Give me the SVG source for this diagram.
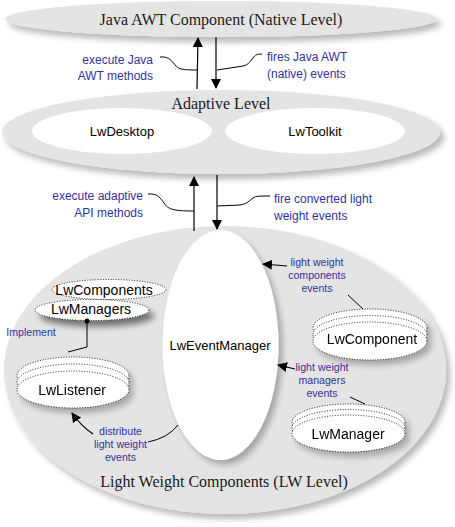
<svg xmlns="http://www.w3.org/2000/svg" width="455" height="527" viewBox="0 0 455 527">
<defs>
<filter id="sh" x="-10%" y="-20%" width="125%" height="150%">
<feGaussianBlur in="SourceAlpha" stdDeviation="3"/>
<feOffset dx="4" dy="5" result="o"/>
<feComponentTransfer><feFuncA type="linear" slope="0.28"/></feComponentTransfer>
<feMerge><feMergeNode/><feMergeNode in="SourceGraphic"/></feMerge>
</filter>
<filter id="shd" x="-20%" y="-30%" width="150%" height="200%">
<feGaussianBlur in="SourceAlpha" stdDeviation="3"/>
<feOffset dx="5" dy="6"/>
<feComponentTransfer><feFuncA type="linear" slope="0.5"/></feComponentTransfer>
<feMerge><feMergeNode/><feMergeNode in="SourceGraphic"/></feMerge>
</filter>
<marker id="ah" viewBox="0 0 10 10" refX="9" refY="5" markerWidth="10" markerHeight="10" markerUnits="userSpaceOnUse" orient="auto">
<path d="M0,0 L10,5 L0,10 z" fill="#000"/>
</marker>
<style>
.lvl{fill:#e4e4e4}
.wh{fill:#fff}
.dot{fill:#fff;stroke:#111;stroke-width:0.9;stroke-dasharray:1 1.6}
.ttl{font-family:"Liberation Serif","Times New Roman",serif;font-size:16px;fill:#1a1a1a;text-anchor:middle}
.nd{font-family:"Liberation Sans",Arial,sans-serif;fill:#000;text-anchor:middle}
.lb{font-family:"Liberation Sans",Arial,sans-serif;font-size:12px;fill:#333399}
.sl{font-family:"Liberation Sans",Arial,sans-serif;font-size:10.6px;fill:#333399;text-anchor:middle}
.ln{fill:none;stroke:#000;stroke-width:1}
.ar{fill:none;stroke:#000;stroke-width:1.2;marker-end:url(#ah)}
</style>
</defs>
<g id="native-level">
<ellipse class="lvl" cx="221" cy="19" rx="216" ry="18" filter="url(#sh)"/>
<text class="ttl" x="221" y="25">Java AWT Component (Native Level)</text>
</g>
<g id="adaptive-level">
<ellipse class="lvl" cx="221" cy="132" rx="219" ry="42" filter="url(#sh)"/>
<text class="ttl" x="221" y="109">Adaptive Level</text>
</g>
<g id="lwdesktop">
<ellipse class="wh" cx="122" cy="131" rx="90" ry="23"/>
<text class="nd" x="122" y="136" font-size="13">LwDesktop</text>
</g>
<g id="lwtoolkit">
<ellipse class="wh" cx="315" cy="131" rx="90" ry="23"/>
<text class="nd" x="315" y="136" font-size="13">LwToolkit</text>
</g>
<g id="lw-level">
<ellipse class="lvl" cx="225" cy="370" rx="221" ry="144" filter="url(#sh)"/>
<text class="ttl" x="224" y="487">Light Weight Components (LW Level)</text>
</g>
<g id="lweventmanager">
<ellipse class="wh" cx="220.5" cy="345" rx="58" ry="115" filter="url(#sh)"/>
<text class="nd" x="220" y="349.5" font-size="13">LwEventManager</text>
</g>
<g id="lwcomponents">
<ellipse class="dot" cx="109" cy="289.5" rx="57" ry="10"/>
<text class="nd" x="104" y="295" font-size="14">LwComponents</text>
</g>
<g id="lwmanagers">
<ellipse class="dot" cx="92" cy="310" rx="57" ry="10.5" filter="url(#shd)"/>
<text class="nd" x="91" y="314" font-size="14">LwManagers</text>
</g>
<g id="lwlistener" filter="url(#sh)">
<ellipse class="dot" cx="73" cy="375.5" rx="56" ry="18.5"/>
<ellipse class="dot" cx="73" cy="382.5" rx="56" ry="18.5"/>
<ellipse class="dot" cx="73" cy="389.5" rx="56" ry="18.5"/>
<text class="nd" x="72" y="395" font-size="14">LwListener</text>
</g>
<g id="lwcomponent" filter="url(#sh)">
<ellipse class="dot" cx="370" cy="328" rx="57" ry="19"/>
<ellipse class="dot" cx="370" cy="334.5" rx="57" ry="19"/>
<ellipse class="dot" cx="370" cy="341" rx="57" ry="19"/>
<text class="nd" x="372" y="344" font-size="14">LwComponent</text>
</g>
<g id="lwmanager" filter="url(#sh)">
<ellipse class="dot" cx="348.5" cy="422.5" rx="56.5" ry="18.5"/>
<ellipse class="dot" cx="348.5" cy="428" rx="56.5" ry="18.5"/>
<ellipse class="dot" cx="348.5" cy="433.5" rx="56.5" ry="18.5"/>
<text class="nd" x="348" y="439" font-size="14">LwManager</text>
</g>
<g id="connectors">
<path class="ar" d="M197,89 L198,38"/>
<path class="ar" d="M216,37 L216,88"/>
<path class="ar" d="M194,231 L194,177"/>
<path class="ar" d="M217,175 L217,229"/>
<path class="ln" d="M160,57 C170,56 172,62 176,66 C179,69 182,70 197,70"/>
<path class="ln" d="M217,70 L243,66 C249,65 251,60 253,58 C255,55 257,54 262,54"/>
<path class="ln" d="M148,194 C158,193 161,199 164,203 C168,209 172,211 194,211"/>
<path class="ln" d="M217,206 L240,205 C247,204 250,200 253,198 C256,196 259,196 270,196"/>
<path class="ar" d="M287,266 L263,264"/>
<path class="ln" d="M348,295 L363,309"/>
<path class="ar" d="M295,369 L278,365"/>
<path class="ln" d="M350,397 L365,404"/>
<path class="ln" d="M178,425 Q168,438 148,442"/>
<path class="ar" d="M93,434 Q81,426 72,413"/>
<path class="ln" d="M87,321 L87,347 L68,352"/>
<circle cx="87" cy="321" r="2.5" fill="#000"/>
</g>
<g id="labels">
<text class="lb" x="153" y="64" text-anchor="end">execute Java</text>
<text class="lb" x="153" y="80" text-anchor="end">AWT methods</text>
<text class="lb" x="267" y="61">fires Java AWT</text>
<text class="lb" x="267" y="78">(native) events</text>
<text class="lb" x="143" y="200" text-anchor="end">execute adaptive</text>
<text class="lb" x="143" y="217" text-anchor="end">API methods</text>
<text class="lb" x="274" y="203">fire converted light</text>
<text class="lb" x="274" y="220">weight events</text>
<text class="sl" x="317" y="266">light weight</text>
<text class="sl" x="317" y="279">components</text>
<text class="sl" x="317" y="292">events</text>
<text class="sl" x="322" y="371">light weight</text>
<text class="sl" x="322" y="384">managers</text>
<text class="sl" x="322" y="397">events</text>
<text class="sl" x="120.5" y="435">distribute</text>
<text class="sl" x="120.5" y="448">light weight</text>
<text class="sl" x="120.5" y="461">events</text>
<text class="sl" x="31" y="336" text-anchor="start">Implement</text>
</g>
</svg>
